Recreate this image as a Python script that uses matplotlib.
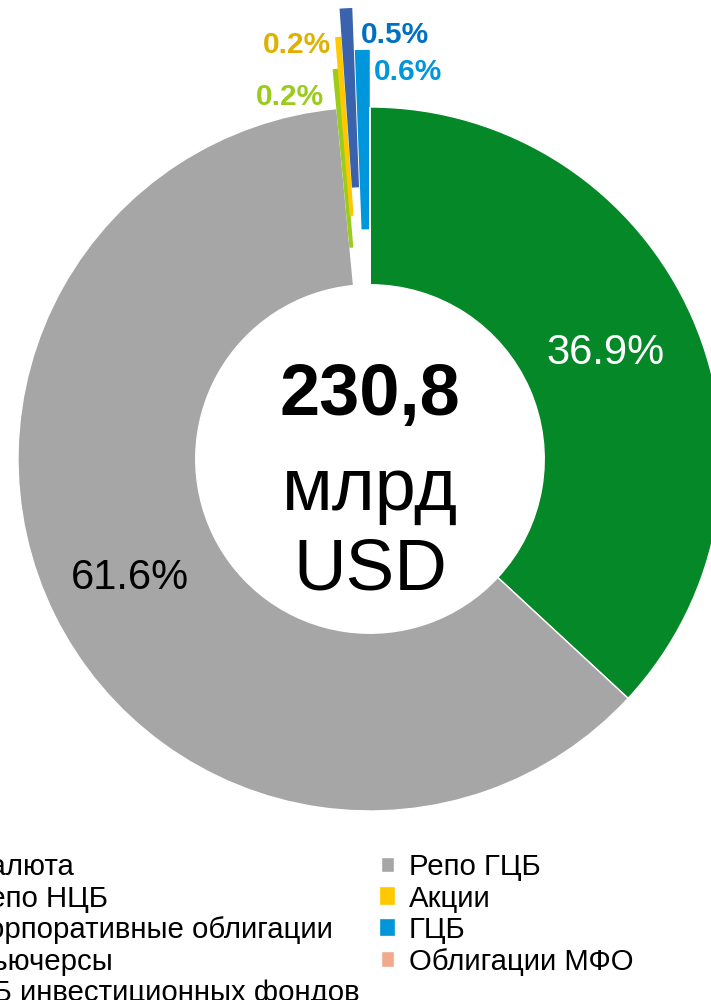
import matplotlib
matplotlib.use("Agg")
import matplotlib.pyplot as plt

plt.rcParams['font.family'] = ['Liberation Sans', 'DejaVu Sans']

# data
categories = ["Валюта", "Репо ГЦБ", "Репо НЦБ", "Акции", "Корпоративные облигации",
              "ГЦБ", "Фьючерсы", "Облигации МФО", "ЦБ инвестиционных фондов"]
shares = [36.9, 61.6, 0.2, 0.2, 0.5, 0.6, 0.0, 0.0, 0.0]
colors = ["#058828", "#A6A6A6", "#9BCB1C", "#FFC800", "#3A62AD",
          "#0096DC", "#7F7F7F", "#F2A98C", "#5B9BD5"]
explode = [0, 0, 0.11, 0.20, 0.28, 0.16, 0, 0, 0]
label_colors = ["white", "black", "#9BCB1C", "#E0B000", "#0070C0", "#0096DC"]
total_text = "230,8"
unit_lines = ["млрд", "USD"]

fig = plt.figure(figsize=(7.11, 10), dpi=100)
ax = fig.add_axes([0, 0, 1, 1])

wedges, _ = ax.pie(shares, colors=colors, explode=explode, startangle=90,
                   counterclock=False, radius=1.0,
                   wedgeprops=dict(width=0.505, edgecolor="white", linewidth=1))
# thin exploded slices: outline in own colour so they read as bars
for i in range(2, 6):
    wedges[i].set_edgecolor(colors[i])
    wedges[i].set_linewidth(1.2)

ax.set_aspect("auto")
# pixel scale: center at (370, 459), radius 352 px
s = 352.0
ax.set_xlim(-370 / s, (711 - 370) / s)
ax.set_ylim(-(1000 - 459) / s, 459 / s)
ax.axis("off")

# percentage labels
big_pos = [(0.670, 0.302), (-0.682, -0.338)]
for i in range(2):
    ax.text(big_pos[i][0], big_pos[i][1], "%.1f%%" % shares[i], color=label_colors[i],
            fontsize=30, ha="center", va="center")

small_pos = {2: (-0.227, 1.028), 3: (-0.207, 1.176), 4: (0.071, 1.205), 5: (0.108, 1.099)}
for i, (x, y) in small_pos.items():
    ax.text(x, y, "%.1f%%" % shares[i], color=label_colors[i], fontsize=21.5,
            fontweight="bold", ha="center", va="center")

# center text
ax.text(0, 0.126, total_text, fontsize=52, fontweight="bold", ha="center", va="baseline")
ax.text(0, -0.145, unit_lines[0], fontsize=53, ha="center", va="baseline")
ax.text(0, -0.372, unit_lines[1], fontsize=52.5, ha="center", va="baseline")

# legend is filled row by row in the reference -> reorder for column-major fill
order = [0, 2, 4, 6, 8, 1, 3, 5, 7]
fig.legend([wedges[i] for i in order], [categories[i] for i in order], ncol=2,
           loc="upper right", bbox_to_anchor=(633 / 711, 1 - 853 / 1000), frameon=False,
           fontsize=21.2, handlelength=0.42, handleheight=0.42, handletextpad=0.5,
           labelspacing=0.12, columnspacing=0.75, borderpad=0, borderaxespad=0)

fig.savefig("out.png", dpi=100)
